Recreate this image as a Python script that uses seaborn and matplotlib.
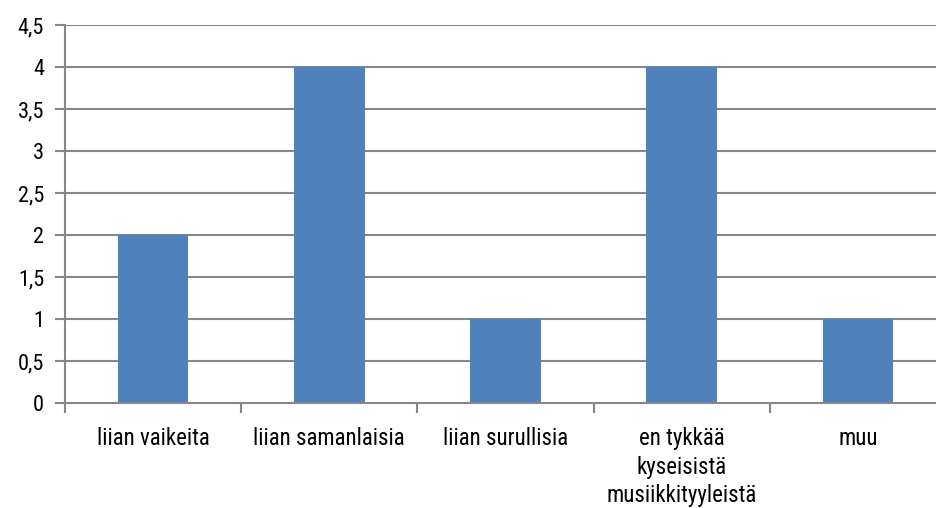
import matplotlib
matplotlib.use("Agg")
import matplotlib.pyplot as plt
from matplotlib.ticker import FuncFormatter, FixedLocator
import seaborn as sns
import pandas as pd

categories = ["liian vaikeita", "liian samanlaisia", "liian surullisia",
              "en tykkää\nkyseisistä\nmusiikkityyleistä", "muu"]
values = [2, 4, 1, 4, 1]
y_ticks = [0, 0.5, 1, 1.5, 2, 2.5, 3, 3.5, 4, 4.5]

sns.set_theme(style="white")
plt.rcParams["font.family"] = ["Roboto Condensed", "Liberation Sans", "DejaVu Sans"]

df = pd.DataFrame({"kategoria": categories, "arvo": values})

fig = plt.figure(figsize=(9.37, 5.08), dpi=100)
ax = fig.add_axes([65 / 937, 1 - 403 / 508, 881 / 937, 378 / 508])

grid_color = "#878787"
sns.barplot(data=df, x="kategoria", y="arvo", color="#4F81BD", width=0.4,
            saturation=1, linewidth=0, edgecolor="none", ax=ax, zorder=3)

ax.set_ylim(0, 4.5)
ax.set_xlim(-0.5, len(categories) - 0.5)
ax.set_yticks(y_ticks)
ax.yaxis.set_major_formatter(FuncFormatter(lambda v, p: f"{v:g}".replace(".", ",")))
for y in y_ticks[1:]:
    ax.axhline(y, color=grid_color, lw=1.5, zorder=1)

ax.set_xlabel("")
ax.set_ylabel("")
ax.set_xticks(range(len(categories)))
ax.set_xticklabels(categories, fontsize=16.5, linespacing=1.33, va="top", color="#000000")
ax.tick_params(axis="x", length=0, pad=17)
ax.xaxis.set_minor_locator(FixedLocator([i - 0.5 for i in range(len(categories) + 1)]))
ax.tick_params(axis="x", which="minor", length=7, width=1.5, color=grid_color,
               bottom=True, direction="out")
ax.tick_params(axis="y", length=7, width=1.5, color=grid_color, left=True,
               labelsize=16, labelcolor="#000000", pad=8, direction="out")

for side in ["top", "right"]:
    ax.spines[side].set_visible(False)
for side in ["left", "bottom"]:
    ax.spines[side].set_color(grid_color)
    ax.spines[side].set_linewidth(1.5)
    ax.spines[side].set_zorder(4)

fig.savefig("out.png", dpi=100)
